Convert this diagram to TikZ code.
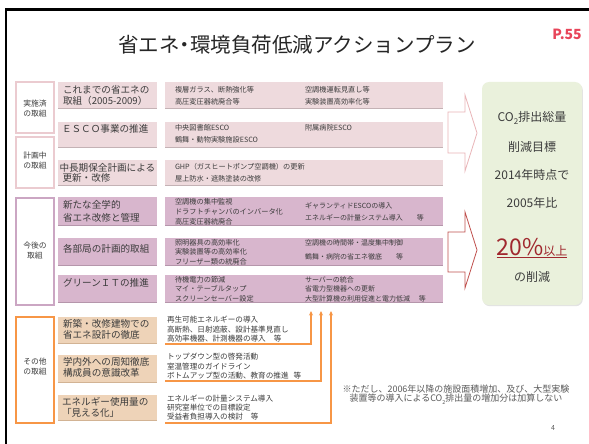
\documentclass[tikz,border=0pt]{standalone}
\usepackage{fontspec}
\setmainfont{Noto Sans CJK JP}
\usetikzlibrary{shadows,arrows.meta}
\definecolor{pinkA}{HTML}{EEDADD}
\definecolor{pinkB}{HTML}{EBCBD0}
\definecolor{pinkS}{HTML}{C4B2B5}
\definecolor{purpA}{HTML}{D8B6CD}
\definecolor{purpB}{HTML}{CBA6C3}
\definecolor{purpS}{HTML}{B596AB}
\definecolor{tanA}{HTML}{EED3B8}
\definecolor{tanS}{HTML}{D2B394}
\definecolor{orangeA}{HTML}{F79646}
\definecolor{greenA}{HTML}{EAF1DC}
\definecolor{arrowA}{HTML}{E9B5B8}
\definecolor{arrowB}{HTML}{C0504D}
\definecolor{redT}{HTML}{A0282E}
\definecolor{redP}{HTML}{E8455A}
\definecolor{txt}{HTML}{3C3C3C}
\definecolor{grayT}{HTML}{5A5A5A}
\newcommand{\fsz}[2]{\fontsize{#1}{#2}\selectfont}
\begin{document}
\begin{tikzpicture}[x=1pt,y=-1pt,
  every node/.style={inner sep=0pt,outer sep=0pt},
  catbox/.style={draw,line width=1.2pt,fill=white,minimum width=38pt,anchor=north west},
  pbox/.style={fill=pinkA,anchor=north west},
  ubox/.style={fill=purpA,anchor=north west},
  tbox/.style={fill=tanA,anchor=north west},
  cat/.style={font=\fsz{7.8}{10},align=center,text=txt},
  lab/.style={align=left,anchor=west,text=txt},
  det/.style={align=left,anchor=west,text=txt},
  garrow/.style={line width=1.3pt,draw=orangeA,-{Stealth[length=4.5pt,width=4pt]}},
  gtxt/.style={font=\fsz{12}{14},text=txt}
]
\useasboundingbox (0,0) rectangle (589,444);
\fill[white] (0,0) rectangle (589,444);
\draw[line width=2.5pt,line join=miter] (6,446) -- (6,9.5) -- (591,9.5);

% title
\node[font=\fsz{20.5}{24},text=black!85] (title) at (297,45) {省エネ\hspace{-5pt}・\hspace{-5pt}環境負荷低減アクションプラン};
\node[font=\fsz{14}{16}\bfseries,text=redP] (page) at (567,34) {P.55};

% ---------- section 1
\node[catbox,draw=pinkB,minimum height=51pt] (catA) at (16,82) {};
\node[cat] (catAt) at (35,109) {実施済\\の取組};
\node[catbox,draw=pinkB,minimum height=51pt] (catB) at (16,137) {};
\node[cat] (catBt) at (35,161) {計画中\\の取組};

\node[pbox,minimum width=99pt,minimum height=26pt] (L1) at (58,82) {};
\node[pbox,minimum width=99pt,minimum height=25pt] (L2) at (58,122) {};
\node[pbox,minimum width=99pt,minimum height=25pt] (L3) at (58,160) {};
\node[pbox,minimum width=278pt,minimum height=26pt] (D1) at (165,82) {};
\node[pbox,minimum width=278pt,minimum height=25pt] (D2) at (165,122) {};
\node[pbox,minimum width=278pt,minimum height=25pt] (D3) at (165,160) {};
\foreach \n in {L1,L2,L3,D1,D2,D3}{
  \draw[pinkS,line width=0.9pt] (\n.south west) -- (\n.south east);}

\node[lab,font=\fsz{9.6}{11}] (L1t) at (63,95.5) {これまでの省エネの\\取組（2005-2009）};
\node[lab,font=\fsz{9.6}{11}] (L2t) at (62,128.5) {ＥＳＣＯ事業の推進};
\node[lab,font=\fsz{9.6}{10.5}] (L3t) at (59.5,173) {中長期保全計画による\\\hspace{3pt}更新・改修};

\node[det,font=\fsz{7.2}{12}] (D1a) at (175,96) {複層ガラス、断熱強化等\\高圧変圧器統廃合等};
\node[det,font=\fsz{7.2}{12}] (D1b) at (305,96) {空調機運転見直し等\\実験装置高効率化等};
\node[det,font=\fsz{7.2}{12}] (D2a) at (175,134) {中央図書館ESCO\\鶴舞・動物実験施設ESCO};
\node[det,font=\fsz{7.2}{12}] (D2b) at (305,128) {附属病院ESCO};
\node[det,font=\fsz{7.2}{11.5}] (D3a) at (175,172.5) {GHP（ガスヒートポンプ空調機）の更新\\屋上防水・遮熱塗装の改修};

% ---------- section 2
\node[catbox,draw=purpB,minimum height=107pt] (catC) at (16,198) {};
\node[cat] (catCt) at (35,250.5) {今後の\\取組};

\node[ubox,minimum width=99pt,minimum height=28pt] (L4) at (58,197) {};
\node[ubox,minimum width=99pt,minimum height=27pt] (L5) at (58,238) {};
\node[ubox,minimum width=99pt,minimum height=27pt] (L6) at (58,275) {};
\node[ubox,minimum width=278pt,minimum height=28pt] (D4) at (165,197) {};
\node[ubox,minimum width=278pt,minimum height=27pt] (D5) at (165,238) {};
\node[ubox,minimum width=278pt,minimum height=27pt] (D6) at (165,275) {};
\foreach \n in {L4,L5,L6,D4,D5,D6}{
  \draw[purpS,line width=0.9pt] (\n.south west) -- (\n.south east);}

\node[lab,font=\fsz{9.6}{13}] (L4t) at (63,211.5) {新たな全学的\\省エネ改修と管理};
\node[lab,font=\fsz{9.6}{11}] (L5t) at (63,249) {各部局の計画的取組};
\node[lab,font=\fsz{9.6}{11}] (L6t) at (63,283) {グリーンＩＴの推進};

\node[det,font=\fsz{7.2}{10}] (D4a) at (175,212) {空調機の集中監視\\ドラフトチャンバのインバータ化\\高圧変圧器統廃合};
\node[det,font=\fsz{7}{12}] (D4b) at (305,212) {ギャランティドESCOの導入\\エネルギーの計量システム導入\hspace{14pt}等};
\node[det,font=\fsz{7.2}{9.5}] (D5a) at (175,252) {照明器具の高効率化\\実験装置等の高効率化\\フリーザー類の統廃合};
\node[det,font=\fsz{7}{14}] (D5b) at (305,250) {空調機の時間帯・温度集中制御\\鶴舞・病院の省エネ徹底\hspace{14pt}等};
\node[det,font=\fsz{7.2}{9.5}] (D6a) at (175,289) {待機電力の節減\\マイ・テーブルタップ\\スクリーンセーバー設定};
\node[det,font=\fsz{7}{9.5}] (D6b) at (305,289) {サーバーの統合\\省電力型機器への更新\\大型計算機の利用促進と電力低減\hspace{9pt}等};

% ---------- section 3
\node[catbox,draw=orangeA,minimum height=106pt] (catD) at (16,317) {};
\node[cat] (catDt) at (35,367) {その他\\の取組};

\node[tbox,minimum width=99pt,minimum height=26pt] (L7) at (58,317) {};
\node[tbox,minimum width=99pt,minimum height=27pt] (L8) at (58,355) {};
\node[tbox,minimum width=99pt,minimum height=25pt] (L9) at (58,395) {};
\foreach \n in {L7,L8,L9}{
  \draw[tanS,line width=0.9pt] (\n.south west) -- (\n.south east);}

\node[lab,font=\fsz{9.6}{11}] (L7t) at (63,329.5) {新築・改修建物での\\省エネ設計の徹底};
\node[lab,font=\fsz{9.6}{11}] (L8t) at (63,367.5) {学内外への周知徹底\\構成員の意識改革};
\node[lab,font=\fsz{9.6}{11}] (L9t) at (62,407.5) {エネルギー使用量の\\「見える化」};

\node[det,font=\fsz{7.6}{9.5}] (T7) at (167,329.5) {再生可能エネルギーの導入\\高断熱、日射遮蔽、設計基準見直し\\高効率機器、計測機器の導入\hspace{8pt}等};
\node[det,font=\fsz{7.6}{9.5}] (T8) at (167,366.5) {トップダウン型の啓発活動\\室温管理のガイドライン\\ボトムアップ型の活動、教育の推進\hspace{5pt}等};
\node[det,font=\fsz{7.6}{9}] (T9) at (167,408) {エネルギーの計量システム導入\\研究室単位での目標設定\\受益者負担導入の検討\hspace{8pt}等};

\coordinate (u1) at (165,344); \coordinate (a1) at (311,311);
\coordinate (u2) at (165,381); \coordinate (a2) at (321,311);
\coordinate (u3) at (165,423); \coordinate (a3) at (331,311);
\draw[garrow] (u1) -| (a1);
\draw[garrow] (u2) -| (a2);
\draw[garrow] (u3) -| (a3);

% ---------- chevron arrows
\draw[arrowA,line width=0.8pt,line join=miter] (448,112) -- (465,112) -- (465,95) -- (477,133) -- (465,171) -- (465,153) -- (448,153) -- cycle;
\draw[arrowB,line width=0.8pt,line join=miter] (448,232) -- (465,232) -- (465,212) -- (477,250) -- (465,288) -- (465,272) -- (448,272) -- cycle;

% ---------- goal box
\node[fill=greenA,rounded corners=7pt,minimum width=100pt,minimum height=223pt,anchor=north west,
      drop shadow={opacity=0.22,shadow xshift=0.8pt,shadow yshift=-1.2pt}] (goal) at (482,82) {};
\node[gtxt] (g1) at (532,118) {CO\raisebox{-0.3em}{\fsz{8}{8}2}排出総量};
\node[gtxt] (g2) at (532,147) {削減目標};
\node[gtxt] (g3) at (532,175) {2014年時点で};
\node[gtxt] (g4) at (532,203) {2005年比};
\node[text=redT,anchor=base] (g5) at (532,255) {{\fsz{23}{24}20\%}{\fsz{12}{13}以上}};
\draw[redT,line width=1.2pt] ([yshift=-2.5pt]g5.base west) -- ([yshift=-2.5pt]g5.base east);
\node[gtxt] (g6) at (532,277) {の削減};

% ---------- footnote
\node[font=\fsz{9}{9.6},text=grayT,align=center] (note) at (456,394.5) {※ただし、2006年以降の施設面積増加、及び、大型実験\\装置等の導入によるCO\raisebox{-0.25em}{\fsz{5.5}{6}2}排出量の増加分は加算しない};
\node[font=\fsz{7}{8},text=grayT] (pgnum) at (553,428) {4};
\end{tikzpicture}
\end{document}
